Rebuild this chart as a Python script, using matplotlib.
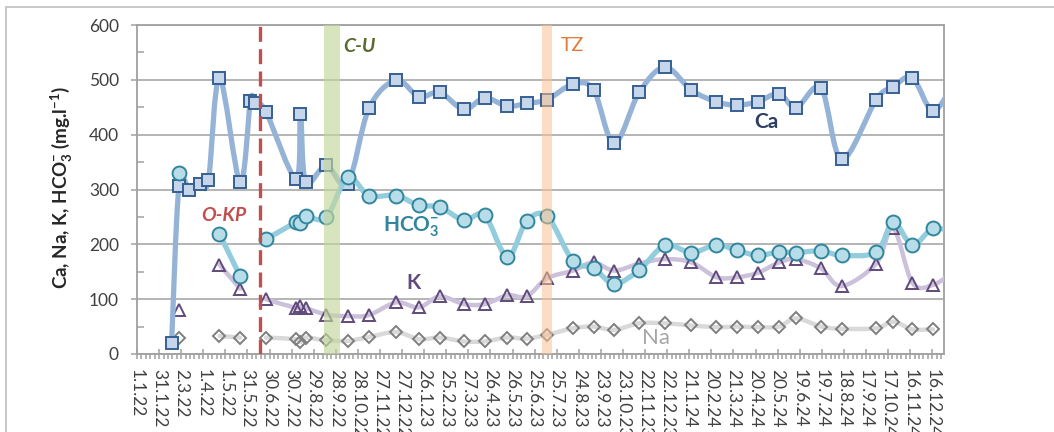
import numpy as np
import pandas as pd
import matplotlib
matplotlib.use("Agg")
import matplotlib.pyplot as plt
import matplotlib.dates as mdates
from matplotlib.path import Path
from matplotlib.patches import PathPatch, Rectangle
from matplotlib.ticker import FixedLocator, MultipleLocator

plt.rcParams["font.family"] = ["Lato", "DejaVu Sans"]
plt.rcParams["mathtext.fontset"] = "custom"
plt.rcParams["mathtext.rm"] = "Lato"
plt.rcParams["mathtext.bf"] = "Lato:bold"
plt.rcParams["mathtext.it"] = "Lato:italic"

# ---- sampling dates and concentrations (mg/l) ----
dates = [
    "2022-02-17", "2022-02-27", "2022-03-13", "2022-03-27", "2022-04-08",
    "2022-04-23", "2022-05-21", "2022-06-04", "2022-06-10", "2022-06-25",
    "2022-08-05", "2022-08-11", "2022-08-18", "2022-09-15", "2022-10-14",
    "2022-11-12", "2022-12-19", "2023-01-19", "2023-02-16", "2023-03-21",
    "2023-04-18", "2023-05-19", "2023-06-14", "2023-07-12", "2023-08-16",
    "2023-09-13", "2023-10-11", "2023-11-14", "2023-12-19", "2024-01-24",
    "2024-02-27", "2024-03-26", "2024-04-23", "2024-05-22", "2024-06-14",
    "2024-07-18", "2024-08-15", "2024-10-01", "2024-10-24", "2024-11-19",
    "2024-12-17", "2025-01-14",
]
nan = np.nan
ca = [20, 306, 300, 310, 317, 504, 313, 461, 458, 442,
      319, 438, 313, 344, 310, 448, 499, 469, 477, 446,
      467, 452, 457, 464, 492, 482, 384, 477, 523, 481,
      460, 454, 460, 475, 449, 485, 355, 464, 487, 504,
      443, 495]
hco3 = [nan, 330, nan, nan, nan, 219, 142, nan, nan, 209,
        240, 238, 251, 249, 322, 289, 289, 271, 268, 244,
        253, 177, 242, 251, 170, 157, 128, 153, 198, 185,
        199, 189, 180, 186, 185, 188, 180, 186, 240, 199,
        229, 221]
k = [nan, 81, nan, nan, nan, 163, 119, nan, nan, 100,
     84, 87, 84, 72, 69, 71, 94, 85, 105, 91,
     91, 107, 105, 138, 152, 167, 152, 165, 173, 167,
     140, 140, 148, 167, 173, 156, 124, 165, 229, 130,
     126, 150]
na = [nan, 30, nan, nan, nan, 33, 30, nan, nan, 30,
      27, 22, 30, 25, 24, 31, 40, 27, 30, 23,
      23, 30, 28, 35, 47, 50, 44, 56, 56, 52,
      49, 50, 49, 50, 65, 50, 46, 47, 59, 45,
      45, nan]

tick_labels = [
    "1.1.22", "31.1.22", "2.3.22", "1.4.22", "1.5.22", "31.5.22", "30.6.22",
    "30.7.22", "29.8.22", "28.9.22", "28.10.22", "27.11.22", "27.12.22",
    "26.1.23", "25.2.23", "27.3.23", "26.4.23", "26.5.23", "25.6.23",
    "25.7.23", "24.8.23", "23.9.23", "23.10.23", "22.11.23", "22.12.23",
    "21.1.24", "20.2.24", "21.3.24", "20.4.24", "20.5.24", "19.6.24",
    "19.7.24", "18.8.24", "17.9.24", "17.10.24", "16.11.24", "16.12.24",
]

# event markers
okp_date = "2022-06-17"
cu_span = ("2022-09-12", "2022-10-04")
tz_span = ("2023-07-05", "2023-07-18")

x = mdates.date2num(pd.to_datetime(dates))


def smooth_path(xs, ys):
    """Bezier-smoothed polyline through each run of valid points."""
    xs = np.asarray(xs, float)
    ys = np.asarray(ys, float)
    ok = ~np.isnan(ys)
    verts, codes = [], []
    i = 0
    n = len(xs)
    while i < n:
        if not ok[i]:
            i += 1
            continue
        j = i
        while j + 1 < n and ok[j + 1]:
            j += 1
        pts = np.column_stack([xs[i:j + 1], ys[i:j + 1]])
        if len(pts) >= 2:
            verts.append(pts[0]); codes.append(Path.MOVETO)
            for s in range(len(pts) - 1):
                p0 = pts[s - 1] if s > 0 else pts[s]
                p1, p2 = pts[s], pts[s + 1]
                p3 = pts[s + 2] if s + 2 < len(pts) else pts[s + 1]
                c1 = p1 + (p2 - p0) / 6.0
                c2 = p2 - (p3 - p1) / 6.0
                verts += [c1, c2, p2]
                codes += [Path.CURVE4] * 3
        i = j + 1
    return Path(np.array(verts), codes)


fig = plt.figure(figsize=(10.54, 4.32), dpi=100)
ax = fig.add_axes([137 / 1054, 78 / 432, 807 / 1054, 329 / 432])

series = [
    (na, "#D9D9D9", 3.2, "D", 6.5, "none", "#7F7F7F", 2),
    (k, "#CCC1DA", 3.2, "^", 9, "none", "#604A7B", 3),
    (ca, "#95B3D7", 3.8, "s", 8.5, "#C5D6EA", "#366092", 4),
    (hco3, "#93CDDD", 3.8, "o", 10, "#B7DEE8", "#31859C", 5),
]
for vals, lc, lw, mk, ms, mfc, mec, z in series:
    ax.add_patch(PathPatch(smooth_path(x, vals), fill=False, edgecolor=lc,
                           lw=lw, zorder=z, capstyle="round", joinstyle="round"))
    ax.plot(x, vals, ls="none", marker=mk, ms=ms, mfc=mfc, mec=mec, mew=1.4,
            zorder=z + 0.5)

# event bands and line
ax.axvspan(*mdates.date2num(pd.to_datetime(list(cu_span))), color="#C3D69B",
           alpha=0.65, lw=0, zorder=8)
ax.axvspan(*mdates.date2num(pd.to_datetime(list(tz_span))), color="#FAC090",
           alpha=0.55, lw=0, zorder=8)
ax.axvline(mdates.date2num(pd.Timestamp(okp_date)), color="#C0504D", lw=2.4,
           ls=(0, (4.5, 2.2)), zorder=9)

# axes ranges and ticks
x0 = pd.Timestamp("2022-01-01")
ax.set_xlim(mdates.date2num(x0), mdates.date2num(pd.Timestamp("2025-01-01")))
ax.set_ylim(0, 600)
major_pos = mdates.date2num([x0 + pd.Timedelta(days=30 * i) for i in range(len(tick_labels))])
ax.xaxis.set_major_locator(FixedLocator(major_pos))
ax.xaxis.set_minor_locator(FixedLocator(
    mdates.date2num([x0 + pd.Timedelta(days=6 * i) for i in range(183)])))
ax.set_xticklabels(tick_labels, rotation=-90, fontsize=12.5, color="#404040")
ax.yaxis.set_major_locator(MultipleLocator(100))
ax.yaxis.set_minor_locator(MultipleLocator(50))
ax.tick_params(axis="y", which="major", direction="out", length=4, width=1.1,
               color="#A0A0A0", labelsize=12.5, labelcolor="#404040", pad=9)
ax.tick_params(axis="y", which="minor", direction="in", length=5, width=1.1,
               color="#A0A0A0")
ax.tick_params(axis="x", which="major", direction="inout", length=7, width=1.1,
               color="#A0A0A0", pad=7)
ax.tick_params(axis="x", which="minor", direction="out", length=3.5, width=1.1,
               color="#A0A0A0")
ax.grid(axis="y", which="major", color="#A0A0A0", lw=1.1, zorder=0)
ax.set_axisbelow(True)
for side in ["left", "bottom", "right", "top"]:
    ax.spines[side].set_color("#A0A0A0")
    ax.spines[side].set_linewidth(1.3)

ylabel = r"Ca, Na, K, HCO$_\mathbf{3}^{\mathbf{-}}$ (mg.l$^{\mathbf{-1}}$)"
fig.text(62 / 1054, 1 - 188 / 432, ylabel, rotation=90, ha="center",
         va="center", fontsize=13.5, fontweight="bold", color="#262626")


def dnum(s):
    return mdates.date2num(pd.Timestamp(s))


# annotations
ax.text(dnum("2022-04-29"), 253, "O-KP", color="#C0504D", fontsize=14,
        fontweight="bold", fontstyle="italic", ha="center", va="center", zorder=10)
ax.text(dnum("2022-10-30"), 560, "C-U", color="#5A6B2F", fontsize=14,
        fontweight="bold", fontstyle="italic", ha="center", va="center", zorder=10)
ax.text(dnum("2023-08-15"), 562, "TZ", color="#E07B39", fontsize=14,
        ha="center", va="center", zorder=10)
ax.text(dnum("2024-05-05"), 423, "Ca", color="#2C3E64", fontsize=15,
        fontweight="bold", ha="center", va="center", zorder=10)
ax.text(dnum("2022-12-01"), 232, r"HCO$_\mathbf{3}^{\mathbf{-}}$", color="#31859C",
        fontsize=15, fontweight="bold", ha="left", va="center", zorder=10)
ax.text(dnum("2023-01-12"), 129, "K", color="#604A7B", fontsize=15,
        fontweight="bold", ha="center", va="center", zorder=10)
ax.text(dnum("2023-12-07"), 29, "Na", color="#A6A6A6", fontsize=16,
        ha="center", va="center", zorder=10)

# outer chart frame
fig.add_artist(Rectangle((6 / 1054, -0.2), 1.2, 1.2 - 7 / 432,
                         transform=fig.transFigure, fill=False,
                         edgecolor="#BFBFBF", lw=1.2))

fig.savefig("out.png", dpi=100)
